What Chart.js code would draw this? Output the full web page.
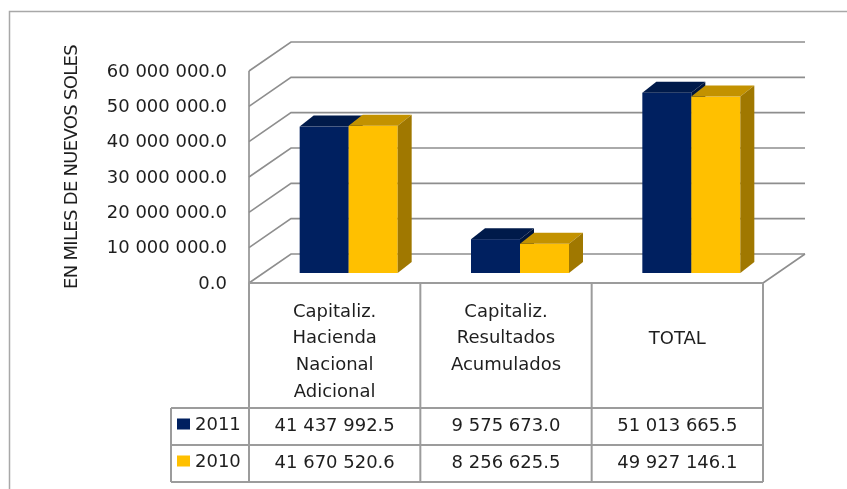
<!DOCTYPE html>
<html>
<head>
<meta charset="utf-8">
<script src="https://cdn.jsdelivr.net/npm/chart.js@4/dist/chart.umd.min.js"></script>
<style>
  html, body { margin: 0; padding: 0; background: #fff; }
  #chart { display: block; }
</style>
</head>
<body>
<canvas id="chart" width="847" height="489"></canvas>
<script>
// data
const categories = [
	['Capitaliz.', 'Hacienda', 'Nacional', 'Adicional'],
	['Capitaliz.', 'Resultados', 'Acumulados'],
	['TOTAL']
];
const seriesNames = ['2011', '2010'];
const values2011 = [41437992.5, 9575673.0, 51013665.5];
const values2010 = [41670520.6, 8256625.5, 49927146.1];
const yTicks = [0, 10000000, 20000000, 30000000, 40000000, 50000000, 60000000];
const yTitle = 'EN MILES DE NUEVOS SOLES';

const FONT = '"DejaVu Sans", Verdana, sans-serif';
const TEXT = '#1e1e1e';
const GRID = '#8e8e8e';
const TABLE_LINE = '#9c9c9c';
const colors = [
	{ front: '#002060', top: '#001a4a', side: '#00153d' },
	{ front: '#ffc000', top: '#c39200', side: '#a07800' }
];

// wall depth and the plane the bars stand on
const wallDx = 42, wallDy = 29;
const barShiftX = 14, barShiftY = -10;
const barDx = 14, barDy = 11;

function fmt(v) {
	const parts = v.toFixed(1).split('.');
	return parts[0].replace(/\B(?=(\d{3})+(?!\d))/g, ' ') + '.' + parts[1];
}

const chart3d = {
	id: 'chart3d',
	beforeDraw(chart) {
		const ctx = chart.ctx;
		ctx.save();
		// outer frame (runs past the right and bottom edge)
		ctx.strokeStyle = '#a8a8a8';
		ctx.lineWidth = 1.5;
		ctx.strokeRect(9.5, 11.5, 900, 600);
		ctx.restore();
	},
	beforeDatasetsDraw(chart) {
		const ctx = chart.ctx;
		const area = chart.chartArea;
		const y = chart.scales.y;
		ctx.save();
		ctx.strokeStyle = GRID;
		ctx.lineWidth = 1.6;
		// gridlines on left and back walls
		yTicks.forEach(v => {
			const yf = y.getPixelForValue(v);
			ctx.beginPath();
			ctx.moveTo(area.left, yf);
			ctx.lineTo(area.left + wallDx, yf - wallDy);
			ctx.lineTo(area.right + wallDx, yf - wallDy);
			ctx.stroke();
		});
		// axis edge and floor
		ctx.beginPath();
		ctx.moveTo(area.left, area.top);
		ctx.lineTo(area.left, area.bottom);
		ctx.moveTo(area.right, area.bottom);
		ctx.lineTo(area.right + wallDx, area.bottom - wallDy);
		ctx.stroke();

		// tick labels
		ctx.fillStyle = TEXT;
		ctx.font = '18px ' + FONT;
		ctx.textAlign = 'right';
		ctx.textBaseline = 'middle';
		yTicks.forEach(v => {
			ctx.fillText(fmt(v), 227, y.getPixelForValue(v) + 1);
		});

		// axis title
		ctx.save();
		ctx.translate(72, 167);
		ctx.rotate(-Math.PI / 2);
		ctx.textAlign = 'center';
		ctx.font = '18px ' + FONT;
		if ('letterSpacing' in ctx) ctx.letterSpacing = '-0.7px';
		ctx.fillText(yTitle, 0, 0);
		ctx.restore();

		// 3d bars, left to right
		const items = [];
		chart.data.datasets.forEach((ds, di) => {
			chart.getDatasetMeta(di).data.forEach((el, i) => {
				const p = el.getProps(['x', 'y', 'base', 'width'], true);
				items.push({ p, c: colors[di] });
			});
		});
		items.sort((a, b) => a.p.x - b.p.x);
		items.forEach(({ p, c }) => {
			const x0 = p.x - p.width / 2 + barShiftX;
			const x1 = p.x + p.width / 2 + barShiftX;
			const yt = p.y + barShiftY;
			const yb = p.base + barShiftY;
			ctx.fillStyle = c.front;
			ctx.fillRect(x0, yt, x1 - x0, yb - yt);
			ctx.fillStyle = c.top;
			ctx.beginPath();
			ctx.moveTo(x0, yt);
			ctx.lineTo(x0 + barDx, yt - barDy);
			ctx.lineTo(x1 + barDx, yt - barDy);
			ctx.lineTo(x1, yt);
			ctx.closePath();
			ctx.fill();
			ctx.fillStyle = c.side;
			ctx.beginPath();
			ctx.moveTo(x1, yt);
			ctx.lineTo(x1 + barDx, yt - barDy);
			ctx.lineTo(x1 + barDx, yb - barDy);
			ctx.lineTo(x1, yb);
			ctx.closePath();
			ctx.fill();
		});
		ctx.restore();
		return false;
	},
	afterDraw(chart) {
		const ctx = chart.ctx;
		const area = chart.chartArea;
		const x = chart.scales.x;
		const n = categories.length;
		const colW = (area.right - area.left) / n;
		const headTop = area.bottom, headBottom = 408;
		const rowH = 37;
		const legLeft = 171;
		ctx.save();
		ctx.strokeStyle = TABLE_LINE;
		ctx.lineWidth = 2;
		ctx.beginPath();
		ctx.moveTo(area.left, headTop);
		ctx.lineTo(area.right, headTop);
		for (let r = 0; r <= seriesNames.length; r++) {
			ctx.moveTo(legLeft, headBottom + r * rowH);
			ctx.lineTo(area.right, headBottom + r * rowH);
		}
		for (let c = 0; c <= n; c++) {
			const cx = area.left + c * colW;
			ctx.moveTo(cx, headTop);
			ctx.lineTo(cx, headBottom + seriesNames.length * rowH);
		}
		ctx.moveTo(legLeft, headBottom);
		ctx.lineTo(legLeft, headBottom + seriesNames.length * rowH);
		ctx.stroke();

		ctx.fillStyle = TEXT;
		ctx.font = '18px ' + FONT;
		ctx.textAlign = 'center';
		ctx.textBaseline = 'middle';
		categories.forEach((lines, i) => {
			const cx = x.getPixelForValue(i);
			const lh = 26.7;
			const start = lines.length >= 3 ? 312 : 339 - (lines.length - 1) * lh / 2;
			lines.forEach((t, k) => ctx.fillText(t, cx, start + k * lh));
		});
		const rows = [values2011, values2010];
		rows.forEach((vals, r) => {
			const cy = headBottom + r * rowH + rowH / 2;
			vals.forEach((v, i) => {
				ctx.fillText(fmt(v), x.getPixelForValue(i), cy);
			});
			ctx.fillStyle = colors[r].front;
			ctx.fillRect(177, cy - 8, 13, 11);
			ctx.fillStyle = TEXT;
			ctx.textAlign = 'left';
			ctx.fillText(seriesNames[r], 195, cy - 1);
			ctx.textAlign = 'center';
		});
		ctx.restore();
	}
};

new Chart(document.getElementById('chart'), {
	type: 'bar',
	data: {
		labels: categories.map(c => c.join(' ')),
		datasets: [
			{ label: seriesNames[0], data: values2011, backgroundColor: colors[0].front },
			{ label: seriesNames[1], data: values2010, backgroundColor: colors[1].front }
		]
	},
	options: {
		responsive: false,
		animation: false,
		layout: { padding: { left: 249, right: 84, top: 71, bottom: 206 } },
		datasets: { bar: { categoryPercentage: 0.572, barPercentage: 1 } },
		plugins: { legend: { display: false }, tooltip: { enabled: false }, title: { display: false } },
		scales: {
			x: { display: false },
			y: { display: false, min: 0, max: 60000000 }
		}
	},
	plugins: [chart3d]
});
</script>
</body>
</html>
